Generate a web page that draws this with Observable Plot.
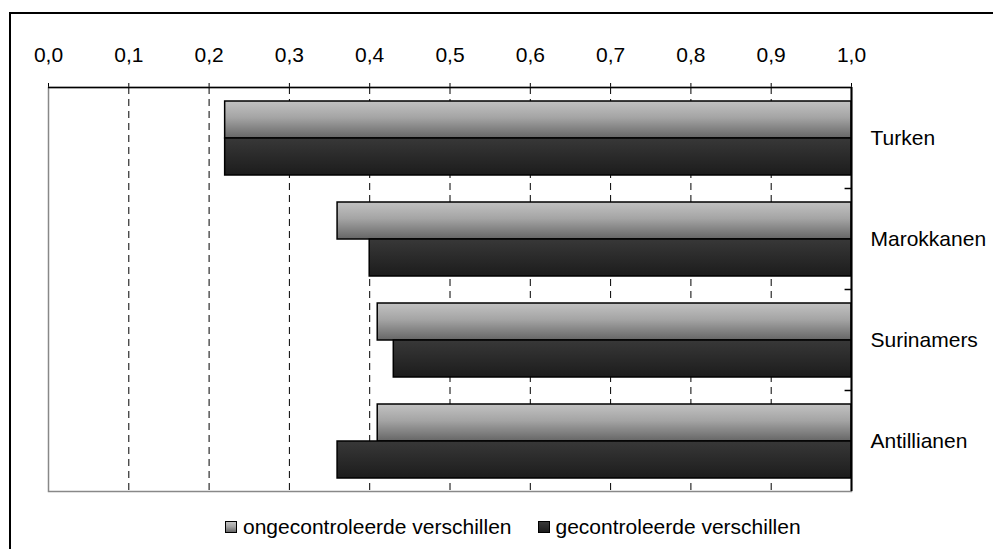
<!DOCTYPE html>
<html>
<head>
<meta charset="utf-8">
<script src="https://cdn.jsdelivr.net/npm/d3@7"></script>
<script src="https://cdn.jsdelivr.net/npm/@observablehq/plot@0.6"></script>
<style>
  html, body { margin: 0; padding: 0; background: #fff; overflow: hidden; width: 993px; height: 549px; }
  #frame { position: absolute; left: 9px; top: 12px; width: 1200px; height: 1000px; border-top: 2px solid #000; border-left: 2px solid #000; }
  #chart { position: absolute; left: 0; top: 0; }
  #legend { position: absolute; left: 225px; top: 514px; display: flex; align-items: center; font-family: 'Liberation Sans', Arial, sans-serif; font-size: 21px; line-height: 26px; color: #000; white-space: nowrap; }
  .item { display: flex; align-items: center; margin-right: 26px; }
  .sw { width: 10px; height: 10px; border: 1px solid #000; margin-right: 6px; }
</style>
</head>
<body>
<div id="frame"></div>
<div id="chart"></div>
<div id="legend"></div>
<script>
const categories = ["Turken", "Marokkanen", "Surinamers", "Antillianen"];
const seriesNames = ["ongecontroleerde verschillen", "gecontroleerde verschillen"];
const ongecontroleerde = [0.22, 0.36, 0.41, 0.41];
const gecontroleerde = [0.22, 0.40, 0.43, 0.36];
const upperBound = 1.0;
const xTicks = [0, 0.1, 0.2, 0.3, 0.4, 0.5, 0.6, 0.7, 0.8, 0.9, 1.0];

const rowsLight = categories.map((c, i) => ({category: c, series: seriesNames[0], value: ongecontroleerde[i], upper: upperBound}));
const rowsDark = categories.map((c, i) => ({category: c, series: seriesNames[1], value: gecontroleerde[i], upper: upperBound}));

const gradients = {
  gLight: [[0, "#c2c2c2"], [0.45, "#a4a4a4"], [1, "#666666"]],
  gDark: [[0, "#383838"], [1, "#1c1c1c"]]
};

const W = 993, H = 500, mT = 87, mB = 9;
const halfBand = (H - mT - mB) / categories.length / 2;

const plot = Plot.plot({
  width: W,
  height: H,
  marginLeft: 48,
  marginRight: 142,
  marginTop: mT,
  marginBottom: mB,
  style: {fontFamily: "'Liberation Sans', Arial, sans-serif", fontSize: "21px", color: "#000", background: "transparent", overflow: "visible"},
  x: {domain: [0, 1], axis: "top", ticks: xTicks, tickFormat: d => d.toFixed(1).replace(".", ","), tickSize: 5, tickPadding: 21, label: null, line: true},
  y: {domain: categories, axis: "right", tickSize: 0, tickPadding: 19, label: null, padding: 0},
  marks: [
    Plot.frame({stroke: "#888", strokeWidth: 1.5}),
    Plot.ruleX(xTicks.slice(1, -1), {stroke: "#000", strokeWidth: 1, strokeDasharray: "7,5"}),
    Plot.ruleX(xTicks, {x: d => d, y: () => categories[categories.length - 1], insetTop: 97, stroke: "#666"}),
    Plot.barX(rowsLight, {x1: "value", x2: "upper", y: "category", fill: "url(#gLight)", stroke: "#000", strokeWidth: 1.5, insetTop: 14, insetBottom: 50}),
    Plot.barX(rowsDark, {x1: "value", x2: "upper", y: "category", fill: "url(#gDark)", stroke: "#000", strokeWidth: 1.5, insetTop: 51, insetBottom: 13}),
    Plot.ruleY(categories.slice(0, 1), {y: d => d, x1: 0, x2: upperBound, dy: -halfBand, stroke: "#000", strokeWidth: 1.5}),
    Plot.ruleY(categories.slice(1), {y: d => d, x1: upperBound - 0.008, x2: upperBound, dy: -halfBand, stroke: "#000", strokeWidth: 1.5}),
    Plot.ruleX([upperBound], {stroke: "#000", strokeWidth: 2})
  ]
});

const defs = d3.select(plot).insert("defs", ":first-child");
for (const [id, stops] of Object.entries(gradients)) {
  const g = defs.append("linearGradient").attr("id", id).attr("x1", 0).attr("y1", 0).attr("x2", 0).attr("y2", 1);
  for (const [o, c] of stops) g.append("stop").attr("offset", o).attr("stop-color", c);
}
document.getElementById("chart").appendChild(plot);

const legend = d3.select("#legend");
const css = {
  gLight: "linear-gradient(#c2c2c2, #a4a4a4 45%, #666666)",
  gDark: "linear-gradient(#383838, #1c1c1c)"
};
seriesNames.forEach((name, i) => {
  const item = legend.append("div").attr("class", "item");
  item.append("div").attr("class", "sw").style("background", i === 0 ? css.gLight : css.gDark);
  item.append("span").text(name);
});
</script>
</body>
</html>
